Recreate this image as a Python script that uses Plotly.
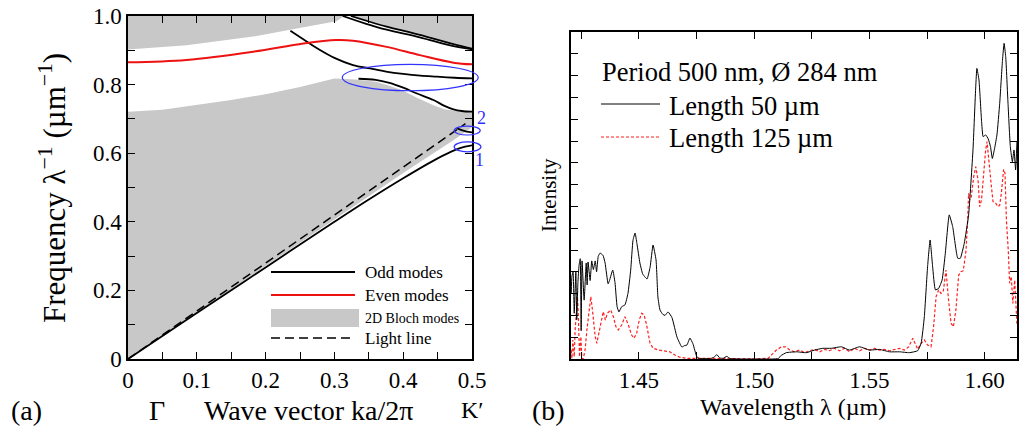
import plotly.graph_objects as go

W, H = 1022, 431
SERIF = "Liberation Serif"
BLUE = "#3333ff"
GRAY = "#c8c8c8"

# ---------------- panel (a): photonic band diagram ----------------
# wave vector ka/2pi, frequency 1/lambda (1/um)
k_odd1 = [0, 0.1, 0.2, 0.3, 0.35, 0.4, 0.45, 0.475, 0.49, 0.5]
f_odd1 = [0, 0.134, 0.267, 0.400, 0.465, 0.527, 0.585, 0.609, 0.619, 0.623]
k_odd2 = [0.478, 0.485, 0.492, 0.5]
f_odd2 = [0.673, 0.667, 0.663, 0.661]
k_odd3 = [0.236, 0.258, 0.279, 0.30, 0.327, 0.352, 0.375, 0.40, 0.425, 0.449, 0.475, 0.5]
f_odd3 = [0.957, 0.928, 0.901, 0.878, 0.857, 0.847, 0.838, 0.831, 0.826, 0.823, 0.820, 0.818]
k_odd4 = [0.335, 0.36, 0.38, 0.40, 0.42, 0.444, 0.46, 0.473, 0.485, 0.5]
f_odd4 = [0.817, 0.814, 0.805, 0.791, 0.774, 0.755, 0.738, 0.728, 0.723, 0.721]
k_odd5 = [0.312, 0.345, 0.376, 0.424, 0.473, 0.5]
f_odd5 = [1.0, 0.978, 0.960, 0.938, 0.912, 0.903]
k_odd6 = [0.324, 0.35, 0.376, 0.424, 0.473, 0.5]
f_odd6 = [1.0, 0.984, 0.969, 0.945, 0.918, 0.905]

k_even = [0, 0.085, 0.182, 0.255, 0.303, 0.327, 0.376, 0.424, 0.473, 0.5]
f_even = [0.865, 0.872, 0.896, 0.920, 0.930, 0.928, 0.910, 0.886, 0.864, 0.859]

k_light = [0, 0.4905]
f_light = [0, 0.686]

# 2D Bloch mode continua (outlines of the shaded regions)
k_bloch_low = [0, 0.2, 0.342, 0.40, 0.473, 0.5, 0.5, 0.48, 0.46, 0.444, 0.42, 0.40,
               0.38, 0.36, 0.33, 0.30, 0.25, 0.2, 0.15, 0.1, 0.05, 0]
f_bloch_low = [0, 0.272, 0.4636, 0.542, 0.638, 0.676, 0.721, 0.722, 0.728, 0.740, 0.762, 0.782,
               0.797, 0.808, 0.815, 0.818, 0.793, 0.772, 0.755, 0.740, 0.727, 0.721]
k_bloch_up1 = [0, 0, 0.085, 0.182, 0.255, 0.303, 0.314]
f_bloch_up1 = [1.0, 0.902, 0.915, 0.940, 0.967, 0.985, 1.0]
k_bloch_up2 = k_odd6 + [0.5]
f_bloch_up2 = f_odd6 + [1.0]

# ---------------- panel (b): transmission spectra ----------------
wl_50 = [1.4206, 1.4209, 1.4214, 1.4219, 1.4226, 1.4230, 1.4235, 1.4240, 1.4245, 1.4249,
         1.4253, 1.4262, 1.4271, 1.4275, 1.4279, 1.4288, 1.4295, 1.4302, 1.4310, 1.4316,
         1.4323, 1.4331, 1.4344, 1.4353, 1.4366, 1.4372, 1.4386, 1.4396, 1.4405, 1.4413,
         1.4425, 1.4439, 1.4452, 1.4464, 1.4474, 1.4483, 1.4491, 1.4504, 1.4516, 1.4526,
         1.4535, 1.4548, 1.4561, 1.4574, 1.4582, 1.4591, 1.4603, 1.4613, 1.4626, 1.4643,
         1.4665, 1.4686, 1.4699, 1.4708, 1.4721, 1.4734, 1.4751, 1.4764, 1.4790, 1.4810,
         1.4825, 1.4838, 1.4850, 1.4865, 1.4881, 1.4895, 1.4950, 1.5000, 1.5080, 1.5105,
         1.5115, 1.5139, 1.5183, 1.5226, 1.5262, 1.5297, 1.5334, 1.5378, 1.5413, 1.5457,
         1.5500, 1.5543, 1.5587, 1.5630, 1.5673, 1.5709, 1.5724, 1.5738, 1.5752, 1.5763,
         1.5774, 1.5786, 1.5800, 1.5815, 1.5829, 1.5846, 1.5861, 1.5883, 1.5894, 1.5911,
         1.5930, 1.5949, 1.5961, 1.5966, 1.5975, 1.5986, 1.5993, 1.6004, 1.6015, 1.6025,
         1.6033, 1.6043, 1.6053, 1.6065, 1.6077, 1.6084, 1.6091, 1.6101, 1.6111, 1.6120,
         1.6127, 1.6134, 1.6140]
I_50 = [3.0, 3.8, 4.0, 2.1, 4.0, 1.8, 3.5, 4.3, 4.6, 1.3,
        4.5, 2.7, 4.4, 3.4, 4.45, 3.6, 4.5, 4.1, 4.5, 4.0,
        4.7, 4.86, 4.75, 4.4, 3.45, 3.6, 4.08, 3.5, 2.4, 2.16,
        2.4, 2.48, 3.0, 4.08, 5.45, 5.78, 5.3, 4.4, 3.9, 3.76,
        3.67, 4.2, 5.23, 4.54, 2.85, 2.25, 2.05, 2.0, 2.16, 1.9,
        1.0, 0.55, 0.62, 0.64, 0.96, 0.7, 0.1, 0.02, 0.02, 0.02,
        0.08, 0.2, 0.05, 0.03, 0.12, 0.02, 0.0, 0.0, 0.0, 0.02,
        0.15, 0.29, 0.33, 0.29, 0.41, 0.49, 0.49, 0.56, 0.41, 0.56,
        0.41, 0.44, 0.33, 0.33, 0.29, 0.38, 0.72, 1.94, 4.23, 5.46,
        4.23, 3.17, 3.24, 3.62, 4.85, 6.61, 6.07, 4.62, 4.62, 5.3,
        6.6, 9.59, 12.5, 13.33, 12.8, 10.96, 10.2, 10.28, 10.1, 9.74,
        9.2, 9.67, 10.28, 11.73, 13.7, 14.48, 13.87, 11.73, 9.74, 9.05,
        9.59, 8.67, 10.0]

wl_125 = [1.4206, 1.4209, 1.4213, 1.4219, 1.4223, 1.4233, 1.4237, 1.4242, 1.4248, 1.4252,
          1.4258, 1.4266, 1.4274, 1.4282, 1.4291, 1.4298, 1.4302, 1.4310, 1.4317, 1.4328,
          1.4339, 1.4345, 1.4354, 1.4363, 1.4377, 1.4389, 1.4400, 1.4410, 1.4425, 1.4439,
          1.4454, 1.4468, 1.4478, 1.4490, 1.4501, 1.4512, 1.4522, 1.4533, 1.4548, 1.4562,
          1.4584, 1.4613, 1.4634, 1.4656, 1.4677, 1.4706, 1.4750, 1.4800, 1.4900, 1.5000,
          1.5060, 1.5074, 1.5096, 1.5118, 1.5136, 1.5154, 1.5175, 1.5197, 1.5219, 1.5240,
          1.5262, 1.5284, 1.5305, 1.5327, 1.5348, 1.5370, 1.5392, 1.5413, 1.5435, 1.5457,
          1.5478, 1.5500, 1.5522, 1.5543, 1.5565, 1.5587, 1.5608, 1.5630, 1.5652, 1.5670,
          1.5688, 1.5699, 1.5709, 1.5724, 1.5738, 1.5752, 1.5767, 1.5778, 1.5789, 1.5800,
          1.5810, 1.5820, 1.5832, 1.5843, 1.5854, 1.5864, 1.5875, 1.5887, 1.5897, 1.5907,
          1.5919, 1.5926, 1.5930, 1.5935, 1.5942, 1.5952, 1.5961, 1.5971, 1.5978, 1.5986,
          1.5996, 1.6004, 1.6010, 1.6019, 1.6029, 1.6036, 1.6048, 1.6058, 1.6065, 1.6072,
          1.6082, 1.6088, 1.6094, 1.6102, 1.6108, 1.6115, 1.6122, 1.6130, 1.6134, 1.6140]
I_125 = [0.4, 0.03, 0.87, 0.1, 1.33, 2.86, 1.94, 0.1, 1.02, 0.03,
         0.0, 0.41, 1.33, 2.1, 2.86, 2.25, 1.71, 1.02, 0.72, 1.33,
         1.94, 2.17, 1.79, 2.1, 2.25, 1.94, 1.48, 1.33, 1.56, 1.94,
         1.56, 1.1, 0.95, 1.18, 1.79, 2.1, 2.02, 1.56, 0.72, 0.49,
         0.41, 0.38, 0.33, 0.18, 0.08, 0.03, 0.02, 0.03, 0.02, 0.0,
         0.03, 0.18, 0.41, 0.56, 0.56, 0.41, 0.33, 0.41, 0.29, 0.38,
         0.44, 0.33, 0.44, 0.38, 0.49, 0.38, 0.49, 0.33, 0.49, 0.38,
         0.49, 0.41, 0.49, 0.41, 0.44, 0.38, 0.44, 0.49, 0.41, 0.56,
         0.95, 0.72, 0.45, 0.72, 0.87, 0.64, 0.56, 1.48, 2.86, 3.17,
         3.01, 3.09, 4.08, 2.71, 1.64, 1.48, 2.25, 3.85, 4.0, 4.05,
         5.0, 6.38, 7.6, 7.29, 7.45, 8.36, 8.82, 8.21, 6.99, 7.29,
         8.67, 9.59, 9.97, 9.13, 7.9, 7.22, 7.14, 6.99, 7.06, 7.6,
         8.7, 8.52, 6.38, 5.0, 3.47, 3.78, 2.55, 3.62, 2.71, 1.56]

wl_ticks = [1.45, 1.50, 1.55, 1.60]
wl_labels = ["1.45", "1.50", "1.55", "1.60"]
k_ticks = [0, 0.1, 0.2, 0.3, 0.4, 0.5]
k_labels = ["0", "0.1", "0.2", "0.3", "0.4", "0.5"]
f_ticks = [0, 0.2, 0.4, 0.6, 0.8, 1.0]
f_labels = ["0", "0.2", "0.4", "0.6", "0.8", "1.0"]

K_RANGE = [0, 0.5]
F_RANGE = [0, 1.0]
WL_RANGE = [1.4205, 1.614]
I_RANGE = [0, 15]


def px(x):
    return x / W


def py(y):
    return 1 - y / H


fig = go.Figure()

# shaded Bloch continua
for kk, ff in [(k_bloch_low, f_bloch_low), (k_bloch_up1, f_bloch_up1), (k_bloch_up2, f_bloch_up2)]:
    fig.add_trace(go.Scatter(x=kk, y=ff, mode="lines", fill="toself", fillcolor=GRAY,
                             line=dict(width=0, color=GRAY), hoverinfo="skip",
                             showlegend=False, xaxis="x", yaxis="y"))

fig.add_trace(go.Scatter(x=k_light, y=f_light, mode="lines",
                         line=dict(color="black", width=1.5, dash="9px,5px"),
                         showlegend=False, xaxis="x", yaxis="y"))
for kk, ff in [(k_odd1, f_odd1), (k_odd2, f_odd2), (k_odd3, f_odd3),
               (k_odd4, f_odd4), (k_odd5, f_odd5), (k_odd6, f_odd6)]:
    fig.add_trace(go.Scatter(x=kk, y=ff, mode="lines", line=dict(color="black", width=1.8, shape="spline"),
                             showlegend=False, xaxis="x", yaxis="y"))
fig.add_trace(go.Scatter(x=k_even, y=f_even, mode="lines", line=dict(color="#ee1111", width=2, shape="spline"),
                         showlegend=False, xaxis="x", yaxis="y"))

# spectra
fig.add_trace(go.Scatter(x=wl_125, y=I_125, mode="lines",
                         line=dict(color="#ff2020", width=1.2, dash="3px,2px"),
                         showlegend=False, xaxis="x2", yaxis="y2"))
fig.add_trace(go.Scatter(x=wl_50, y=I_50, mode="lines",
                         line=dict(color="black", width=1.0, shape="spline", smoothing=0.4),
                         showlegend=False, xaxis="x2", yaxis="y2"))

axis_style = dict(showline=True, linecolor="black", linewidth=1.5, mirror="allticks",
                  ticks="inside", ticklen=7, tickwidth=1.3, tickcolor="black",
                  showgrid=False, zeroline=False, automargin=False,
                  tickfont=dict(family=SERIF, size=23, color="black"))

fig.update_layout(
    template="none",
    width=W, height=H, margin=dict(l=0, r=0, t=0, b=0, pad=0, autoexpand=False),
    paper_bgcolor="white", plot_bgcolor="white", showlegend=False,
    font=dict(family=SERIF, color="black"),
    xaxis=dict(domain=[px(128), px(472)], range=K_RANGE, anchor="y",
               tickmode="array", tickvals=k_ticks, ticktext=k_labels,
               minor=dict(ticks="inside", dtick=0.05, tick0=0, ticklen=7, tickwidth=1.3, tickcolor="black"),
               **axis_style),
    yaxis=dict(domain=[py(359), py(16)], range=F_RANGE, anchor="x",
               tickmode="array", tickvals=f_ticks, ticktext=f_labels,
               minor=dict(ticks="inside", dtick=0.1, tick0=0, ticklen=7, tickwidth=1.3, tickcolor="black"),
               **axis_style),
    xaxis2=dict(domain=[px(571), px(1017)], range=WL_RANGE, anchor="y2",
                tickmode="array", tickvals=wl_ticks, ticktext=wl_labels,
                minor=dict(ticks="inside", dtick=0.025, tick0=1.425, ticklen=7, tickwidth=1.3, tickcolor="black"),
                **axis_style),
    yaxis2=dict(domain=[py(359), py(32)], range=I_RANGE, anchor="x2",
                tickmode="linear", tick0=0, dtick=1, showticklabels=False,
                **axis_style),
)

annotations = []


def label(text, x, y, size, color="black", xanchor="center", textangle=0):
    annotations.append(dict(text=text, x=px(x), y=py(y), xref="paper", yref="paper",
                            xanchor=xanchor, yanchor="middle", showarrow=False, textangle=textangle,
                            font=dict(family=SERIF, size=size, color=color)))


# axis titles and panel labels
label("Frequency λ<sup>−1</sup> (µm<sup>−1</sup>)", 53, 188, 31, textangle=-90)
label("(a)", 26, 410, 28)
label("Γ", 157, 410, 28)
label("Wave vector ka/2π", 308, 410, 28)
label("K′", 472, 410, 24)
label("(b)", 548, 410, 28)
label("Wavelength λ (µm)", 793, 407, 24)
label("Intensity", 549, 195, 21, textangle=-90)

# legend of panel (a)
label("Odd modes", 363, 272, 17, xanchor="left")
label("Even modes", 363, 295, 17, xanchor="left")
label("2D Bloch modes", 363, 318, 14, xanchor="left")
label("Light line", 363, 338, 17, xanchor="left")

# legend of panel (b)
label("Period 500 nm, Ø 284 nm", 600, 72, 26.5, xanchor="left")
label("Length 50 µm", 667, 106, 26.5, xanchor="left")
label("Length 125 µm", 667, 138, 26.5, xanchor="left")

# mode labels
label("2", 481, 118, 18, color=BLUE)
label("1", 479, 160, 18, color=BLUE)

fig.update_layout(annotations=annotations)

shapes = [
    dict(type="line", xref="paper", yref="paper", x0=px(271), x1=px(355), y0=py(272), y1=py(272),
         line=dict(color="black", width=1.8)),
    dict(type="line", xref="paper", yref="paper", x0=px(271), x1=px(355), y0=py(295), y1=py(295),
         line=dict(color="#ee1111", width=2)),
    dict(type="rect", xref="paper", yref="paper", x0=px(271), x1=px(359), y0=py(327), y1=py(309),
         fillcolor=GRAY, line=dict(width=0)),
    dict(type="line", xref="paper", yref="paper", x0=px(271), x1=px(355), y0=py(338), y1=py(338),
         line=dict(color="black", width=1.5, dash="9px,5px")),
    dict(type="line", xref="paper", yref="paper", x0=px(601), x1=px(660), y0=py(104), y1=py(104),
         line=dict(color="black", width=1.0)),
    dict(type="line", xref="paper", yref="paper", x0=px(601), x1=px(660), y0=py(137), y1=py(137),
         line=dict(color="#ff2020", width=1.2, dash="3px,2px")),
]

# highlighted anticrossing regions (k, f bounds)
ellipses = [(0.3115, 0.509, 0.782, 0.859), (0.474, 0.512, 0.653, 0.679), (0.474, 0.513, 0.604, 0.633)]
for k0, k1, f0, f1 in ellipses:
    shapes.append(dict(type="circle", xref="x domain", yref="y domain",
                       x0=k0 / K_RANGE[1], x1=k1 / K_RANGE[1], y0=f0 / F_RANGE[1], y1=f1 / F_RANGE[1],
                       line=dict(color=BLUE, width=1.2)))
fig.update_layout(shapes=shapes)

fig.write_html("out.html")
